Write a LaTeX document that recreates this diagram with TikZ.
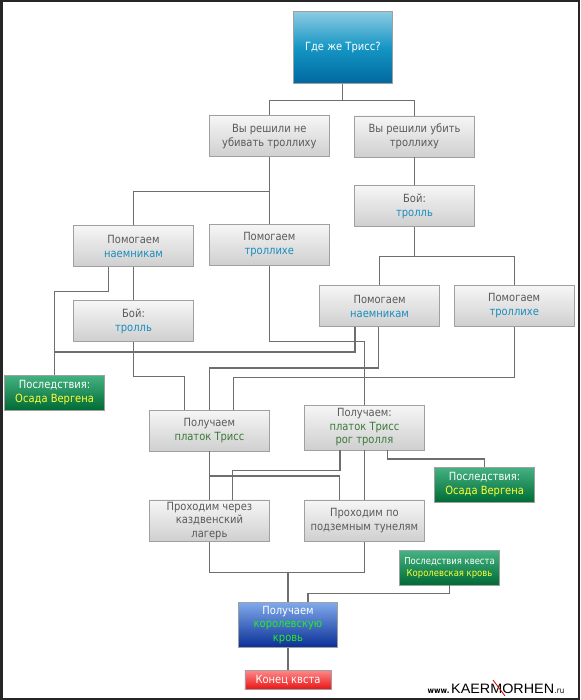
\documentclass[tikz,border=0pt]{standalone}
\usepackage{fontspec}
\setmainfont{DejaVu Sans}[FakeStretch=0.88]
\usetikzlibrary{calc}
\definecolor{gtop}{HTML}{F6F6F6}
\definecolor{gbot}{HTML}{CFCFCF}
\definecolor{gline}{HTML}{A0A0A0}
\definecolor{gtext}{HTML}{5A5A5A}
\definecolor{blu}{HTML}{1A8CBE}
\definecolor{dgreen}{HTML}{3A7A3A}
\definecolor{lineC}{HTML}{6E6E6E}
\definecolor{yel}{HTML}{FFFF33}
\definecolor{lgreen}{HTML}{22EE22}
\definecolor{ggtop}{HTML}{45B283}
\definecolor{ggbot}{HTML}{006B34}
\definecolor{btop}{HTML}{8CCBE2}
\definecolor{bmid}{HTML}{1596C4}
\definecolor{bbot}{HTML}{0068A0}
\definecolor{ktop}{HTML}{80AAEC}
\definecolor{kbot}{HTML}{0A2F96}
\definecolor{rtop}{HTML}{FF8A8A}
\definecolor{rbot}{HTML}{E81414}
\tikzset{
  gbox/.style={draw=gline, line width=0.8pt, top color=gtop, bottom color=gbot, minimum width=120pt, minimum height=41pt, inner sep=0pt, align=center, text=gtext, font=\fontsize{11.3}{14}\selectfont},
  grbox/.style={draw=gline, line width=0.8pt, top color=ggtop, bottom color=ggbot, inner sep=0pt, align=center, text=white, font=\fontsize{11.3}{13.5}\selectfont},
  conn/.style={draw=lineC, line width=1.3pt},
}
\begin{document}
\begin{tikzpicture}[x=1pt,y=-1pt]
\useasboundingbox (0,0) rectangle (580,700);
\fill[white] (0,0) rectangle (580,700);
\draw[line width=2.5pt, black!85] (1.25,1.25) rectangle (578.75,698.75);

\node[draw=gline, line width=0.8pt, top color=btop, bottom color=bbot, middle color=bmid, minimum width=98.8pt, minimum height=71.6pt, inner sep=0pt, text=white, font=\fontsize{11.3}{14}\selectfont] (n0) at (342.8,47.5) {Где же Трисс?};

\node[gbox] (n1) at (269.3,136.2) {Вы решили не\\убивать троллиху};
\node[gbox] (n2) at (414.5,136.5) {Вы решили убить\\троллиху};
\node[gbox] (n3) at (133.5,246) {Помогаем\\\textcolor{blu}{наемникам}};
\node[gbox] (n4) at (269.3,244.8) {Помогаем\\\textcolor{blu}{троллихе}};
\node[gbox] (n5) at (414.5,206) {Бой:\\\textcolor{blu}{тролль}};
\node[gbox] (n6) at (379.6,306) {Помогаем\\\textcolor{blu}{наемникам}};
\node[gbox] (n7) at (514.2,306) {Помогаем\\\textcolor{blu}{троллихе}};
\node[gbox] (n8) at (133.5,321) {Бой:\\\textcolor{blu}{тролль}};
\node[gbox] (n9) at (209.4,430.5) {Получаем\\\textcolor{dgreen}{платок Трисс}};
\node[gbox, minimum height=45pt, font=\fontsize{11.3}{13.5}\selectfont] (n10) at (364.4,427.5) {Получаем:\\\textcolor{dgreen}{платок Трисс}\\\textcolor{dgreen}{рог тролля}};
\node[grbox, minimum width=100.3pt, minimum height=35pt] (n11) at (54.6,392.5) {Последствия:\\\textcolor{yel}{Осада Вергена}};
\node[grbox, minimum width=100pt, minimum height=35pt] (n12) at (484.6,484.8) {Последствия:\\\textcolor{yel}{Осада Вергена}};
\node[gbox, minimum height=41.7pt, font=\fontsize{11.3}{13.5}\selectfont] (n13) at (209.4,520.8) {Проходим через\\каздвенский\\лагерь};
\node[gbox, minimum height=41.7pt] (n14) at (364.4,520.8) {Проходим по\\подземным тунелям};
\node[grbox, minimum width=99.8pt, minimum height=34.3pt, font=\fontsize{9.6}{11.5}\selectfont] (n16) at (449.5,567.8) {Последствия квеста\\\textcolor{yel}{Королевская кровь}};
\node[draw=gline, line width=0.8pt, top color=ktop, bottom color=kbot, minimum width=98.8pt, minimum height=45pt, inner sep=0pt, align=center, text=white, font=\fontsize{11.3}{13.3}\selectfont] (n15) at (288,624.8) {Получаем\\\textcolor{lgreen}{королевскую}\\\textcolor{lgreen}{кровь}};
\node[draw=gline, line width=0.8pt, top color=rtop, bottom color=rbot, minimum width=86.2pt, minimum height=19.3pt, inner sep=0pt, text=white, font=\fontsize{11.3}{13}\selectfont] (n17) at (288,679.7) {Конец квста};

% connectors
\draw[conn] (n0.south) -- ++(0,16.7) coordinate (j0);
\draw[conn] (n1.north) |- (j0) -| (n2.north);
\draw[conn] (n1.south) -- (n4.north);
\draw[conn] (n1.south) ++(0,34.3) -| (n3.north);
\draw[conn] (n2.south) -- (n5.north);
\draw[conn] (n5.south) -- ++(0,29.7) coordinate (j5);
\draw[conn] (n6.north) |- (j5) -| (n7.north);
\draw[conn] (n3.south) -- (n8.north);
\draw[conn] (n3.south) ++(-24.7,0) -- ++(0,24.4) -| (n11.north);
\draw[conn] (n6.south) ++(-24.6,0) -- ++(0,25) -| (n11.north);
\draw[conn] (n4.south) -- ++(0,76) -| (n10.north);
\draw[conn] (n6.south) ++(-1.3,0) -- ++(0,41.2) -| (n9.north);
\draw[conn] (n7.south) -- ++(0,50.5) -| ($(n9.north)+(24,0)$);
\draw[conn] (n8.south) -- ++(0,34.7) -| ($(n9.north)+(-24.7,0)$);
\draw[conn] (n9.south) -- (n13.north);
\draw[conn] (n9.south) ++(0,24.7) -| ($(n14.north)+(-25,0)$);
\draw[conn] (n10.south) ++(-24.4,0) -- ++(0,20) -| ($(n13.north)+(23,0)$);
\draw[conn] (n10.south) -- (n14.north);
\draw[conn] (n10.south) ++(23.3,0) -- ++(0,8.7) -| (n12.north);
\draw[conn] (n13.south) -- ++(0,30.3) -| (n14.south);
\draw[conn] (n15.north) -- ++(0,-30.3);
\draw[conn] (n16.south) -- ++(0,8.3) -| ($(n15.north)+(20,0)$);
\draw[conn] (n15.south) -- (n17.north);

% watermark
\node[anchor=base west, inner sep=0pt, font=\fontsize{8}{8}\selectfont\bfseries] (wm1) at (427.5,693.5) {www.};
\node[anchor=base west, inner sep=0pt] (wm2) at (451,693.5) {\resizebox{103pt}{9.5pt}{\fontspec{Liberation Sans}KAERMORHEN}};
\node[anchor=base west, inner sep=0pt, font=\fontsize{8}{8}\selectfont] (wm3) at (554.5,693.5) {.ru};
\draw[red!80!black, line width=0.8pt] (493,680) -- (505,696);
\end{tikzpicture}
\end{document}
